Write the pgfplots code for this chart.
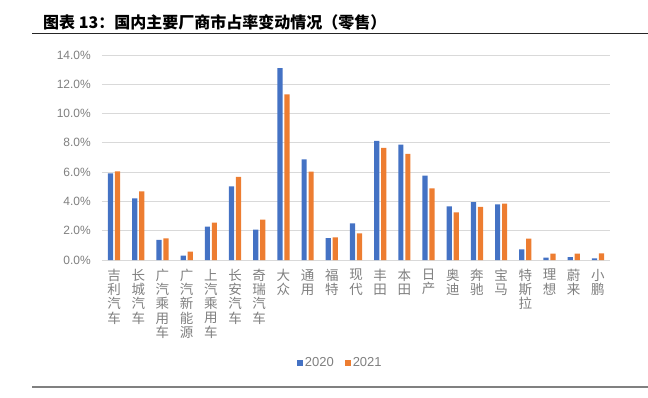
\documentclass[border=0pt]{standalone}
\usepackage{pgfplots}
\pgfplotsset{compat=1.18}
\usepackage{pgfplotstable}
\usepackage{fontspec}
\setmainfont{Liberation Sans}
\newfontfamily\cjk{Noto Sans CJK SC}
\definecolor{cblue}{HTML}{4472C4}
\definecolor{corange}{HTML}{ED7D31}
\definecolor{gridc}{HTML}{D9D9D9}
\definecolor{txt}{HTML}{7F7F7F}
\pgfplotstableread{
idx y2020 y2021
0 5.92 6.05
1 4.21 4.69
2 1.37 1.48
3 0.30 0.57
4 2.28 2.55
5 5.03 5.67
6 2.07 2.75
7 13.11 11.31
8 6.87 6.03
9 1.50 1.55
10 2.50 1.82
11 8.13 7.65
12 7.88 7.24
13 5.76 4.89
14 3.66 3.26
15 3.96 3.62
16 3.80 3.85
17 0.73 1.46
18 0.16 0.43
19 0.20 0.43
20 0.11 0.46
}\datatable
\begin{document}
\begin{tikzpicture}[x=1pt,y=1pt]
\useasboundingbox (0,0) rectangle (648,397);
\node[anchor=west, font=\cjk\bfseries\fontsize{16}{16}\selectfont, inner sep=0] at (43,375) {图表 13：国内主要厂商市占率变动情况（零售）};
\draw[line width=1pt, black!85] (32,363) -- (648,363);
\draw[line width=1.2pt, black!50] (32,10) -- (648,10);
\begin{axis}[
  at={(102pt,137pt)}, anchor=south west, scale only axis,
  width=508pt, height=205pt,
  xmin=-0.5, xmax=20.5, ymin=0, ymax=14,
  ybar=1.8pt, bar width=5.2pt,
  axis line style={draw=none},
  major tick length=0pt,
  ymajorgrids, major grid style={draw=gridc, line width=0.9pt},
  ytick={0,2,4,6,8,10,12,14},
  yticklabels={0.0\%,2.0\%,4.0\%,6.0\%,8.0\%,10.0\%,12.0\%,14.0\%},
  y tick label style={font=\fontsize{12}{12}\selectfont, text=txt, anchor=east, inner sep=0pt, xshift=-11pt},
  xtick={0,...,20},
  xticklabels={{吉\\利\\汽\\车},{长\\城\\汽\\车},{广\\汽\\乘\\用\\车},{广\\汽\\新\\能\\源},{上\\汽\\乘\\用\\车},{长\\安\\汽\\车},{奇\\瑞\\汽\\车},{大\\众},{通\\用},{福\\特},{现\\代},{丰\\田},{本\\田},{日\\产},{奥\\迪},{奔\\驰},{宝\\马},{特\\斯\\拉},{理\\想},{蔚\\来},{小\\鹏}},
  x tick label style={font=\cjk\fontsize{13.5}{14.2}\selectfont, text=txt, align=center, anchor=north, inner sep=0pt, yshift=-9pt},
  legend style={at={(axis description cs:0.469,-0.502)}, anchor=center, draw=none, fill=none, font=\fontsize{13}{13}\selectfont, text=txt, legend columns=2, inner sep=0pt, /tikz/every even column/.append style={column sep=9pt}},
  legend cell align=left,
]
\addplot[fill=cblue, draw=none, legend image code/.code={\fill[cblue] (0pt,-3pt) rectangle (6pt,3pt);}] table[x=idx, y=y2020] {\datatable};
\addplot[fill=corange, draw=none, legend image code/.code={\fill[corange] (0pt,-3pt) rectangle (6pt,3pt);}] table[x=idx, y=y2021] {\datatable};
\legend{2020,2021}
\end{axis}
\end{tikzpicture}
\end{document}
